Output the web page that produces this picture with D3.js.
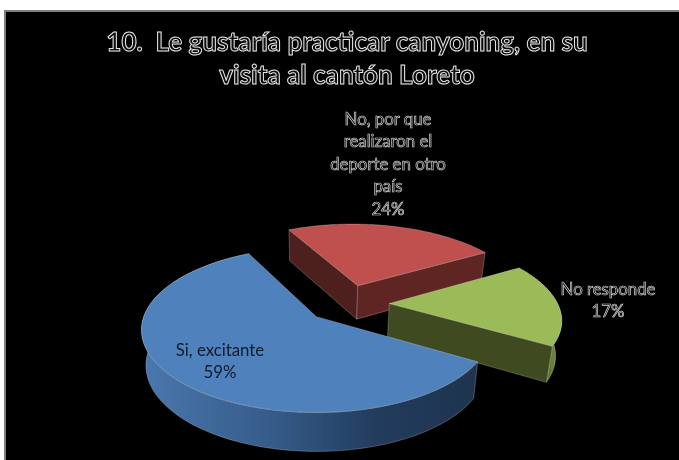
<!DOCTYPE html>
<html lang="es">
<head>
<meta charset="utf-8">
<title>Canyoning en Loreto</title>
<style>
  html, body { margin: 0; padding: 0; background: #fff; }
  svg { display: block; }
  text { font-family: Lato, "Open Sans", sans-serif; white-space: pre; }
</style>
<script src="https://cdn.jsdelivr.net/npm/d3@7/dist/d3.min.js"></script>
</head>
<body>
<svg id="chart" width="679" height="460"></svg>
<script>
const titleLines = ["10.  Le gustaría practicar canyoning, en su", "visita al cantón Loreto"];
const categories = ["Si, excitante", "No, por que realizaron el deporte en otro país", "No responde"];
const categoryLines = [["Si, excitante"], ["No, por que", "realizaron el", "deporte en otro", "país"], ["No responde"]];
const percentages = [59, 24, 17];
const topColors = ["#4f81bd", "#c0504d", "#9bbb59"];

const svg = d3.select("#chart");
const W = 679, H = 460;

// Chart area: black panel with a thin grey frame on its top and left edges
svg.append("rect").attr("x", 4).attr("y", 10).attr("width", W - 4).attr("height", H - 10).attr("fill", "#7f7f7f");
svg.append("rect").attr("x", 6).attr("y", 12).attr("width", W - 6).attr("height", H - 12).attr("fill", "#000");

// Perspective view of the pie plane. Disc coordinates: u to the right, v away from the viewer.
const EXPLOSION = 0.25;
const ROTATION = 121 * Math.PI / 180;
const view = { ox: 317, oy: 317, pivotU: 0.18, pivotV: 0.174, sx: 172.8, sy: 80.6, k: 0.16 };
function project(u, v) {
  const a = u + view.pivotU, b = v + view.pivotV, w = 1 + view.k * b;
  return [view.ox + view.sx * a / w, view.oy - view.sy * b / w];
}
// Lower rim of the extruded disc, derived from a point on the top face
function drop([x, y]) {
  return [317 + (x - 317) * 0.975, y + 31 + 0.0437 * (y - 230)];
}

const slices = d3.pie().sort(null).startAngle(ROTATION).endAngle(ROTATION + 2 * Math.PI)(percentages)
  .map((s, i) => {
    const mid = (s.startAngle + s.endAngle) / 2;
    const du = EXPLOSION * Math.sin(mid), dv = EXPLOSION * Math.cos(mid);
    const rim = d3.range(0, 61).map(j => {
      const t = s.startAngle + (s.endAngle - s.startAngle) * j / 60;
      return project(du + Math.sin(t), dv + Math.cos(t));
    });
    return { i, apex: project(du, dv), rim };
  });

const defs = svg.append("defs");
function sideGradient(id, x1, x2, stops) {
  const g = defs.append("linearGradient").attr("id", id).attr("gradientUnits", "userSpaceOnUse")
    .attr("x1", x1).attr("x2", x2).attr("y1", 0).attr("y2", 0);
  stops.forEach(([o, c]) => g.append("stop").attr("offset", o).attr("stop-color", c));
}
sideGradient("wallBlue", 145, 474, [[0, "#4a77ad"], [0.4, "#345a88"], [0.7, "#223c5e"], [1, "#1e344f"]]);
sideGradient("wallGreen", 536, 558, [[0, "#3f4a21"], [1, "#76923c"]]);

// Slight softening of the lettering, rendered in neutral grey
defs.append("filter").attr("id", "soft").attr("x", "-5%").attr("y", "-20%").attr("width", "110%").attr("height", "140%")
  .append("feGaussianBlur").attr("stdDeviation", 0.3);

const line = d3.line();
const edge = "rgba(255,255,255,0.4)";
function poly(pts, fill) {
  svg.append("path").attr("d", line(pts) + "Z").attr("fill", fill)
    .attr("stroke", edge).attr("stroke-width", 0.6).attr("stroke-linejoin", "round");
}
function radialWall(s, rimPt, fill) {
  poly([s.apex, rimPt, drop(rimPt), drop(s.apex)], fill);
}
function outerWall(s, fill) {
  poly(s.rim.concat(s.rim.map(drop).reverse()), fill);
}

const [blue, red, green] = slices;

// Farthest slice first, so nearer faces paint over it
radialWall(red, red.rim[0], "#4d1f1d");
radialWall(red, red.rim[60], "#5e2523");
poly([red.apex, ...red.rim], topColors[1]);

outerWall(green, "url(#wallGreen)");
radialWall(green, green.rim[60], "#3f4a21");
poly([green.apex, ...green.rim], topColors[2]);

outerWall(blue, "url(#wallBlue)");
poly([blue.apex, ...blue.rim], topColors[0]);

// Title and data labels
function outlined(sel, stroke, width) {
  return sel.attr("fill", "#0a0a0a").attr("stroke", stroke).attr("stroke-width", width);
}
const title = svg.append("g").attr("filter", "url(#soft)").attr("text-anchor", "middle").attr("font-weight", 700).attr("font-size", 26.1);
titleLines.forEach((t, i) => {
  title.append("text").attr("x", 347).attr("y", 51 + i * 33).text(t).call(outlined, "#e8e8e8", 1);
});

function label(lines, pct, cx, firstY, dark) {
  const g = svg.append("g").attr("filter", "url(#soft)").attr("text-anchor", "middle").attr("font-size", 16.8);
  lines.concat(pct + "%").forEach((t, i) => {
    const n = g.append("text").attr("x", cx).attr("y", firstY + i * 22.4).text(t);
    if (dark) n.attr("fill", "#0f1b2b");
    else n.call(outlined, "#d0d0d0", 0.7);
  });
}
label(categoryLines[0], percentages[0], 220, 356, true);
label(categoryLines[1], percentages[1], 388, 125, false);
label(categoryLines[2], percentages[2], 608, 295, false);
</script>
</body>
</html>
